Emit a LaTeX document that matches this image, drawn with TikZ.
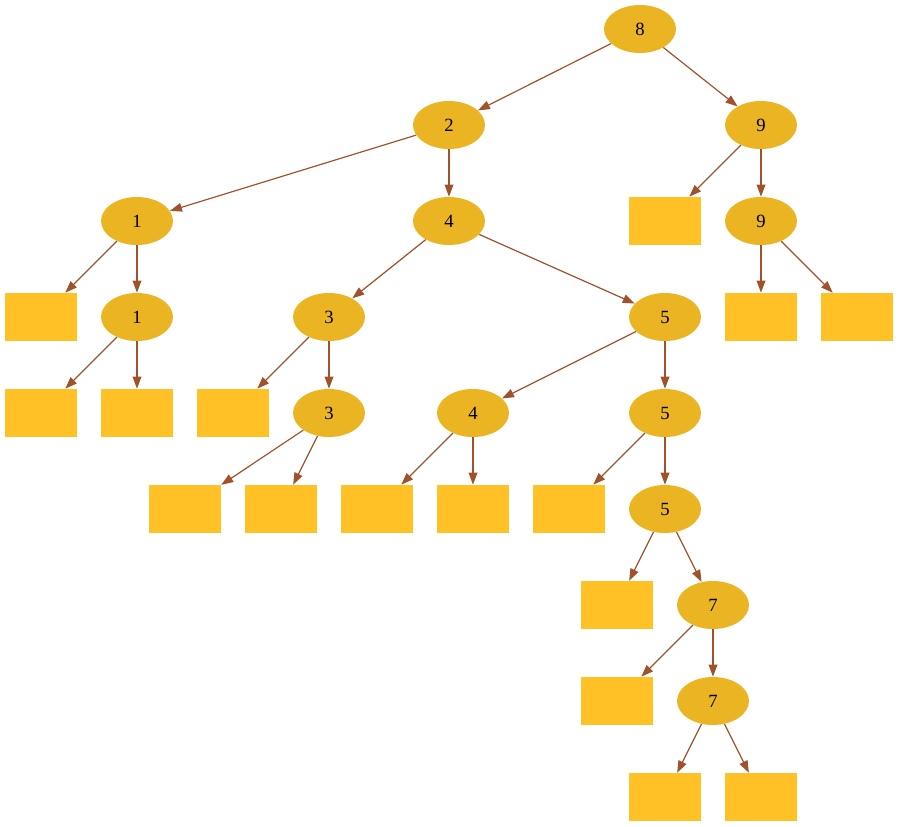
\documentclass[tikz,border=0pt]{standalone}
\usepackage{fontspec}
\setmainfont{Liberation Serif}
\usetikzlibrary{arrows.meta,shapes.geometric}
\definecolor{keyfill}{HTML}{EBB423}
\definecolor{leaffill}{HTML}{FFC125}
\definecolor{edgecol}{HTML}{A0522D}
\tikzset{
  key/.style = {
    ellipse,
    fill=keyfill,
    minimum width=54pt,
    minimum height=36pt,
    inner sep=0pt,
    font={\fontsize{14}{16}\selectfont}
  },
  leaf/.style = {
    rectangle,
    fill=leaffill,
    minimum width=54pt,
    minimum height=36pt,
    inner sep=0pt
  },
  edge/.style = {
    draw=edgecol,
    line width=0.9pt,
    -{Triangle[length=9pt,width=6.5pt]}
  },
}

\begin{document}
\begin{tikzpicture}[x=0.75pt,y=-0.75pt]

  \useasboundingbox (0,0) rectangle (899,827);

  \foreach \name/\xpos/\ypos/\val in {
    n8/640/29/8,
    n2/449/125/2,
    n9a/761/125/9,
    n1a/137/221/1,
    n4a/449/221/4,
    n9b/761/221/9,
    n1b/137/317/1,
    n3a/329/317/3,
    n5a/665/317/5,
    n3b/329/413/3,
    n4b/473/413/4,
    n5b/665/413/5,
    n5c/665/509/5,
    n7a/713/605/7,
    n7b/713/701/7} {
    \node[key] (\name) at (\xpos,\ypos) {\val};
  }

  \foreach \name/\xpos/\ypos in {
    l1/665/221,
    l2/41/317,
    l3/761/317,
    l4/857/317,
    l5/41/413,
    l6/137/413,
    l7/233/413,
    l8/185/509,
    l9/281/509,
    l10/377/509,
    l11/473/509,
    l12/569/509,
    l13/617/605,
    l14/617/701,
    l15/665/797,
    l16/761/797} {
    \node[leaf] (\name) at (\xpos,\ypos) {};
  }

  \foreach \from/\to in {
    n8/n2, n8/n9a,
    n2/n1a, n2/n4a,
    n9a/l1, n9a/n9b,
    n1a/l2, n1a/n1b,
    n4a/n3a, n4a/n5a,
    n9b/l3, n9b/l4,
    n1b/l5, n1b/l6,
    n3a/l7, n3a/n3b,
    n5a/n4b, n5a/n5b,
    n3b/l8, n3b/l9,
    n4b/l10, n4b/l11,
    n5b/l12, n5b/n5c,
    n5c/l13, n5c/n7a,
    n7a/l14, n7a/n7b,
    n7b/l15, n7b/l16} {
    \draw[edge] (\from) -- (\to);
  }

\end{tikzpicture}
\end{document}
